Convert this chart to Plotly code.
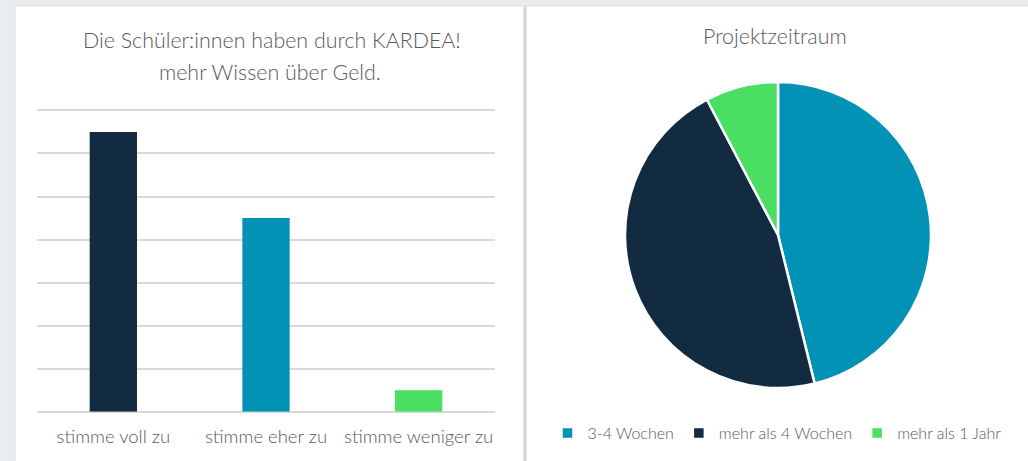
import plotly.graph_objects as go

# Balkendiagramm
bar_categories = ["stimme voll zu", "stimme eher zu", "stimme weniger zu"]
bar_values = [13, 9, 1]
bar_colors = ["#132b41", "#0292b5", "#4adf63"]
bar_title_lines = ["Die Schüler:innen haben durch KARDEA!", "mehr Wissen über Geld."]

# Kreisdiagramm
pie_labels = ["3-4 Wochen", "mehr als 4 Wochen", "mehr als 1 Jahr"]
pie_values = [6, 6, 1]
pie_colors = ["#0292b5", "#132b41", "#4adf63"]
pie_title = "Projektzeitraum"

W, H = 1028, 461
FONT = "Lato"
TEXT_GREY = "#595959"
GRID = "#d9d9d9"


def px(x):
    return x / W


def py(y):
    return 1 - y / H


fig = go.Figure()

fig.add_trace(
    go.Bar(
        x=bar_categories,
        y=bar_values,
        marker=dict(color=bar_colors, line=dict(width=0)),
        showlegend=False,
        hoverinfo="x+y",
    )
)

fig.add_trace(
    go.Pie(
        labels=pie_labels,
        values=pie_values,
        marker=dict(colors=pie_colors, line=dict(color="white", width=2.5)),
        sort=False,
        direction="clockwise",
        rotation=0,
        textinfo="none",
        domain=dict(x=[px(625), px(931)], y=[py(389), py(81)]),
        hoverinfo="label+value+percent",
    )
)

# panels
shapes = [
    dict(type="rect", xref="paper", yref="paper", x0=px(15), x1=px(1030), y0=py(465), y1=py(6),
         fillcolor="white", line=dict(color="#dcdcdc", width=1), layer="below"),
    dict(type="line", xref="paper", yref="paper", x0=px(525), x1=px(525), y0=py(465), y1=py(6.5),
         line=dict(color="#d9d9d9", width=3.5), layer="below"),
]

title_font = dict(family=FONT, size=21.4, color=TEXT_GREY, weight=300)
annotations = [
    dict(text=bar_title_lines[0], x=px(272), y=py(40), xref="paper", yref="paper", showarrow=False,
         xanchor="center", yanchor="middle", font=title_font),
    dict(text=bar_title_lines[1], x=px(270), y=py(72), xref="paper", yref="paper", showarrow=False,
         xanchor="center", yanchor="middle", font=title_font),
    dict(text=pie_title, x=px(775), y=py(36), xref="paper", yref="paper", showarrow=False,
         xanchor="center", yanchor="middle", font=title_font),
]

fig.update_layout(
    width=W,
    height=H,
    margin=dict(l=0, r=0, t=0, b=0),
    paper_bgcolor="#e9edf0",
    plot_bgcolor="rgba(0,0,0,0)",
    font=dict(family=FONT, color=TEXT_GREY),
    bargap=0.69,
    shapes=shapes,
    annotations=annotations,
    xaxis=dict(
        domain=[px(37), px(495)],
        showgrid=False,
        showline=False,
        ticks="",
        ticklabelstandoff=12,
        tickfont=dict(family=FONT, size=18.5, color=TEXT_GREY, weight=300),
        fixedrange=True,
    ),
    yaxis=dict(
        domain=[py(411.7), py(108.3)],
        range=[0, 14.1],
        dtick=2,
        showticklabels=False,
        showgrid=True,
        gridcolor=GRID,
        gridwidth=2,
        zeroline=True,
        zerolinecolor=GRID,
        zerolinewidth=2,
        fixedrange=True,
    ),
    legend=dict(
        orientation="h",
        x=px(777),
        y=py(433),
        xanchor="center",
        yanchor="middle",
        font=dict(family=FONT, size=16, color=TEXT_GREY, weight=300),
        bgcolor="rgba(0,0,0,0)",
        itemclick=False,
        itemdoubleclick=False,
    ),
)

fig.write_html(
    "out.html",
    config={"displayModeBar": False},
    post_script="document.body.style.margin='0px';document.body.style.overflow='hidden';",
)
